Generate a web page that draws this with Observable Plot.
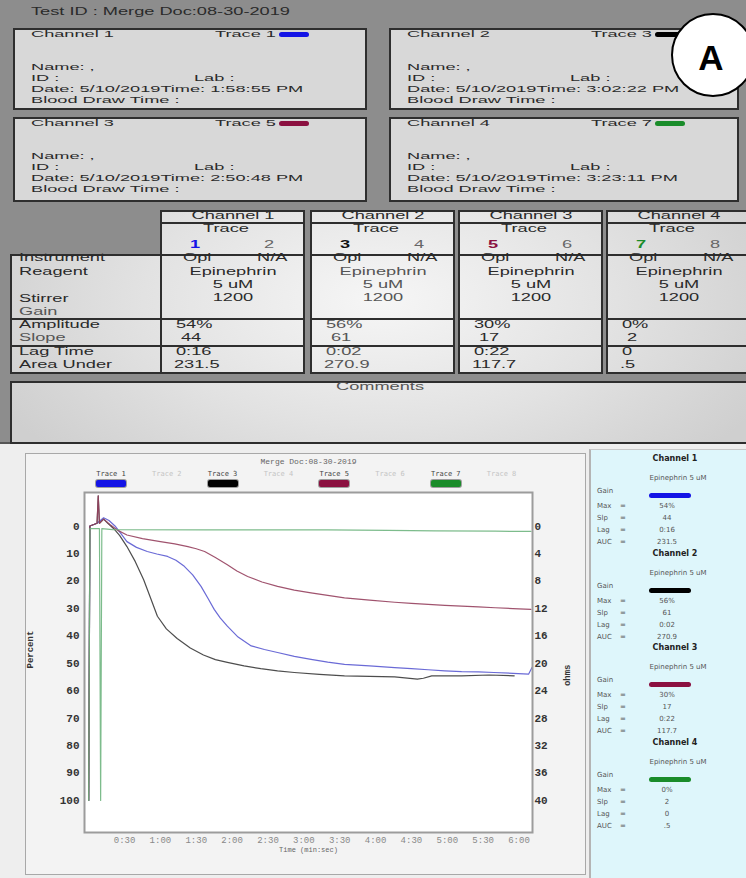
<!DOCTYPE html>
<html>
<head>
<meta charset="utf-8">
<script src="https://cdn.jsdelivr.net/npm/d3@7"></script>
<script src="https://cdn.jsdelivr.net/npm/@observablehq/plot@0.6"></script>
<style>
  html, body { margin: 0; padding: 0; }
  body { width: 746px; height: 878px; position: relative; overflow: hidden; background: #f0f0f0; font-family: "Liberation Sans", Arial, sans-serif; }
  .abs { position: absolute; }
  .t { position: absolute; white-space: nowrap; font-size: 10px; line-height: 12px; color: #2a2a2a; transform-origin: 0 50%; transform: scaleX(1.82); }
  .ts { position: absolute; white-space: nowrap; font-size: 9px; line-height: 10px; color: #2a2a2a; transform-origin: 0 50%; transform: scaleX(2.02); }
  .tc { position: absolute; white-space: nowrap; font-size: 10px; line-height: 12px; color: #2a2a2a; transform-origin: 50% 50%; transform: translateX(-50%) scaleX(1.82); }
  .box { position: absolute; box-sizing: border-box; border: 2px solid #2e2e2e; background: radial-gradient(ellipse 430px 230px at 380px 300px, #f6f6f6 0%, #e2e2e2 55%, #cfcfcf 100%) fixed; }
  .ib { position: absolute; box-sizing: border-box; border: 2px solid #2e2e2e; background: #d8d8d8; }
  .sw { position: absolute; height: 5px; width: 30px; border-radius: 3px; }
  .mono { position: absolute; white-space: nowrap; font-family: "DejaVu Sans Mono", monospace; }
  .rp { position: absolute; white-space: nowrap; font-family: "DejaVu Sans", sans-serif; font-size: 7px; line-height: 8px; color: #555; }
</style>
</head>
<body>
<div id="top" class="abs" style="left:0;top:0;width:746px;height:445px;background:#8d8d8d;"></div>
<div id="bottom" class="abs" style="left:0;top:442px;width:746px;height:436px;background:#eeeeee;border-top:2px solid #555;"></div>
<div id="panel" class="abs" style="left:25px;top:453px;width:561px;height:422px;box-sizing:border-box;border:1px solid #a8a8a8;background:#f3f3f3;"></div>
<div id="right" class="abs" style="left:589px;top:449px;width:157px;height:429px;box-sizing:border-box;border-left:2px solid #b4b4b4;border-top:1px solid #c8c8c8;background:#def6fb;"></div>
<div id="chart" class="abs" style="left:25px;top:453px;"></div>
<div id="overlay"></div>
<script>
// ---------------- data ----------------
const testId = "Test ID : Merge Doc:08-30-2019";
const chartTitle = "Merge Doc:08-30-2019";
const channels = ["Channel 1", "Channel 2", "Channel 3", "Channel 4"];
const traceIds = [1, 3, 5, 7];
const spareTraceIds = [2, 4, 6, 8];
const traceColors = ["#1414e6", "#000000", "#8b1040", "#1a8c2a"];
const lineColors = ["#5a5ad2", "#3a3a3a", "#96405e", "#6fb57f"];
const drawTimes = ["1:58:55 PM", "3:02:22 PM", "2:50:48 PM", "3:23:11 PM"];
const reagent = "Epinephrin";
const dose = "5 uM";
const stirrer = "1200";
const amplitude = ["54%", "56%", "30%", "0%"];
const slope = ["44", "61", "17", "2"];
const lagTime = ["0:16", "0:02", "0:22", "0"];
const areaUnder = ["231.5", "270.9", "117.7", ".5"];

const xTicks = [30, 60, 90, 120, 150, 180, 210, 240, 270, 300, 330, 360];
const xTickLabels = ["0:30", "1:00", "1:30", "2:00", "2:30", "3:00", "3:30", "4:00", "4:30", "5:00", "5:30", "6:00"];
const yTicks = [0, 10, 20, 30, 40, 50, 60, 70, 80, 90, 100];
const yRightLabels = [0, 4, 8, 12, 16, 20, 24, 28, 32, 36, 40];

// traces: [time (s), percent]
const trace1 = [[0,100],[1,0],[7,-1],[12.5,-3],[17,-2],[22,0],[27,2.8],[32,5.7],[40,7.8],[49,9.3],[57,10.2],[66,11.1],[73,12.5],[80,14.7],[87,17.8],[94,22],[100,26.5],[105,30.4],[110,33.5],[116,36.5],[125,40.5],[136,43.7],[147,45],[158,46.1],[172,47.5],[186,48.6],[200,49.6],[214,50.4],[235,51],[256,51.6],[270,52],[284,52.4],[298,52.8],[312,53.1],[326,53.2],[339,53.4],[355,53.7],[368,54],[371,51.5]];
const trace3 = [[0,100],[1,0],[7,-1],[8,-11],[9,-1],[12.5,-2.5],[16,-1],[21,1],[26,3.5],[32,7.5],[39,13],[46,19.6],[52,26.5],[57.5,32.9],[65,37.5],[74,41],[85,44.5],[96,47],[106,48.7],[116,49.7],[130,51],[144,52],[158,52.8],[172,53.4],[193,54.1],[214,54.6],[235,54.8],[256,55],[275,55.8],[280,55.5],[287,54.6],[312,54.6],[335,54.3],[356,54.6]];
const trace5 = [[0,100],[1,0],[7,-1],[8,-11],[9,-1],[12.5,-2.5],[18,-0.5],[24,1.5],[32,3.3],[45,4.6],[60,5.7],[72,6.5],[83,7.5],[90,8.3],[97,9.3],[106,11.5],[116,14.1],[124,16.4],[133,18.4],[145,20.4],[158,22],[172,23.4],[186,24.4],[200,25.3],[214,26.2],[235,27],[256,27.8],[270,28.2],[284,28.6],[298,28.9],[312,29.2],[326,29.5],[340,29.8],[355,30.1],[370,30.4]];
const trace7 = [[0,100],[1,1],[9,1],[10,100],[11,1],[20,1.3],[100,1.4],[200,1.4],[250,1.6],[290,1.8],[340,1.9],[370,2]];
const traces = [trace1, trace3, trace5, trace7];

// ---------------- helpers ----------------
const ov = document.getElementById("overlay");
function el(cls, text, x, y, style) {
  const d = document.createElement("div");
  d.className = cls;
  if (text != null) d.textContent = text;
  d.style.left = x + "px";
  d.style.top = y + "px";
  if (style) Object.assign(d.style, style);
  ov.appendChild(d);
  return d;
}
function t(text, x, yc, style) { return el("t", text, x, yc - 6, style); }
function ts(text, x, yc, style) { return el("ts", text, x, yc - 5, style); }
function tc(text, cx, yc, style) { return el("tc", text, cx, yc - 6, style); }

// ---------------- top header ----------------
t(testId, 31, 12);
const boxPos = [[13, 28, 354, 82], [389, 28, 350, 82], [13, 117, 354, 85], [389, 117, 350, 85]];
channels.forEach((ch, i) => {
  const [L, T, W, H] = boxPos[i];
  el("ib", null, L, T, { width: W + "px", height: H + "px" });
  ts(ch, L + 18, T + 6);
  ts("Trace " + traceIds[i], L + 202, T + 6);
  el("sw", null, L + 266, T + 4, { background: traceColors[i] });
  ts("Name: ,", L + 18, T + 39);
  ts("ID :", L + 18, T + 50);
  ts("Lab :", L + 181, T + 50);
  ts("Date: 5/10/2019Time: " + drawTimes[i], L + 18, T + 61);
  ts("Blood Draw Time :", L + 18, T + 72);
});
// circled A
el("abs", "A", 671, 13, { width: "84px", height: "84px", boxSizing: "border-box", border: "2px solid #000", borderRadius: "50%", background: "#fff", font: "bold 35px 'Liberation Sans', Arial, sans-serif", lineHeight: "86px", textAlign: "center", color: "#000", paddingRight: "4px" });

// ---------------- table ----------------
const colX = [160, 310, 458, 606];
const colW = 145;
el("box", null, 10, 254, { width: "152px", height: "66px" });
el("box", null, 10, 318, { width: "152px", height: "29px" });
el("box", null, 10, 345, { width: "152px", height: "29px" });
const rowLabels = [["Instrument", 258], ["Reagent", 272], ["Stirrer", 299], ["Gain", 312], ["Amplitude", 325], ["Slope", 338], ["Lag Time", 352], ["Area Under", 365]];
rowLabels.forEach(([s, y]) => t(s, 19, y, (s === "Gain" || s === "Slope") ? { color: "#555" } : null));
channels.forEach((ch, k) => {
  const bx = colX[k];
  el("box", null, bx, 210, { width: colW + "px", height: "14px" });
  el("box", null, bx, 222, { width: colW + "px", height: "34px" });
  el("box", null, bx, 254, { width: colW + "px", height: "66px" });
  el("box", null, bx, 318, { width: colW + "px", height: "29px" });
  el("box", null, bx, 345, { width: colW + "px", height: "29px" });
  tc(ch, bx + 73, 216);
  tc("Trace", bx + 66, 229);
  tc(String(traceIds[k]), bx + 35, 245, { color: traceColors[k] === "#000000" ? "#111" : traceColors[k], fontWeight: "bold" });
  tc(String(spareTraceIds[k]), bx + 109, 245, { color: "#666" });
  t("Opl", bx + 23, 258);
  t("N/A", bx + 97, 258);
  const soft = k === 1 ? { color: "#555" } : null;
  tc(reagent, bx + 73, 272, soft);
  tc(dose, bx + 73, 285, soft);
  tc(stirrer, bx + 73, 298, soft);
  t(amplitude[k], bx + 16, 325, soft);
  t(slope[k], bx + 21, 338, soft);
  t(lagTime[k], bx + 16, 352, soft);
  t(areaUnder[k], bx + 14, 365, soft);
});
el("box", null, 10, 381, { width: "740px", height: "63px" });
tc("Comments", 380, 387, { color: "#555" });

// ---------------- chart legend (html) ----------------
const legendNames = [1, 2, 3, 4, 5, 6, 7, 8];
legendNames.forEach((n, i) => {
  const cx = 111 + i * 55.8;
  const active = n % 2 === 1;
  el("mono", "Trace " + n, cx, 470, { fontSize: "7px", lineHeight: "8px", color: active ? "#444" : "#c4c4c4", transform: "translateX(-50%)" });
  if (active) {
    const k = traceIds.indexOf(n);
    el("abs", null, cx - 15, 480, { width: "30px", height: "7px", borderRadius: "2px", background: traceColors[k], boxShadow: "0 0 0 1px rgba(0,0,0,0.35)" });
  }
});

// ---------------- right panel ----------------
channels.forEach((ch, k) => {
  const y0 = 459 + k * 94.5;
  el("rp", ch, 675, y0 - 4, { transform: "translateX(-50%)", fontWeight: "bold", fontSize: "8px", color: "#222" });
  el("rp", reagent + " " + dose, 678, y0 + 15, { transform: "translateX(-50%)" });
  el("rp", "Gain", 597, y0 + 28);
  el("abs", null, 649, y0 + 34, { width: "42px", height: "5px", borderRadius: "3px", background: traceColors[k] });
  const rows = [["Max", amplitude[k]], ["Slp", slope[k]], ["Lag", lagTime[k]], ["AUC", areaUnder[k]]];
  rows.forEach(([lab, val], j) => {
    const yy = y0 + 47 + j * 12 - 4;
    el("rp", lab, 597, yy);
    el("rp", "=", 620, yy);
    el("rp", val, 667, yy, { transform: "translateX(-50%)" });
  });
});

// ---------------- Plot chart ----------------
const lineMarks = traces.map((tr, i) =>
  Plot.line(tr, { x: d => d[0], y: d => d[1], stroke: lineColors[i], strokeWidth: 1.2, strokeOpacity: 0.9 })
);

const chart = Plot.plot({
  width: 561,
  height: 420,
  marginLeft: 59,
  marginRight: 54,
  marginTop: 39,
  marginBottom: 41,
  style: { background: "transparent", fontFamily: "'Liberation Mono', 'DejaVu Sans Mono', monospace", fontSize: "11px", color: "#333", overflow: "visible" },
  x: { domain: [-3.5, 371.3] },
  y: { domain: [-12.2, 111.7], reverse: true },
  marks: [
    Plot.frame({ fill: "white" }),
    ...lineMarks,
    Plot.frame({ stroke: "#9c9c9c", strokeWidth: 2 }),
    Plot.axisY({ ticks: yTicks, tickSize: 0, tickPadding: 5, label: null, fontWeight: "bold", fill: "#333", fontSize: 11 }),
    Plot.axisY({ anchor: "right", ticks: yTicks, tickFormat: (d, i) => String(yRightLabels[i]), tickSize: 0, tickPadding: 2, label: null, fontWeight: "bold", fill: "#333", fontSize: 11 }),
    Plot.axisX({ ticks: xTicks, tickFormat: (d, i) => xTickLabels[i], tickSize: 0, tickPadding: 4, label: null, fill: "#888", fontSize: 9 }),
    Plot.text(["Percent"], { frameAnchor: "left", dx: -54, dy: 6, rotate: -90, fontWeight: "bold", fontSize: 9, fill: "#333" }),
    Plot.text(["ohms"], { frameAnchor: "right", dx: 35, dy: 2, rotate: -90, fontWeight: "bold", fontSize: 9, fill: "#333" }),
    Plot.text(["Time (min:sec)"], { frameAnchor: "bottom", dy: 19, fontSize: 7, fill: "#666" }),
    Plot.text([chartTitle], { frameAnchor: "top", dy: -34, fontSize: 8, fill: "#666" })
  ]
});
document.getElementById("chart").appendChild(chart);
</script>
</body>
</html>
